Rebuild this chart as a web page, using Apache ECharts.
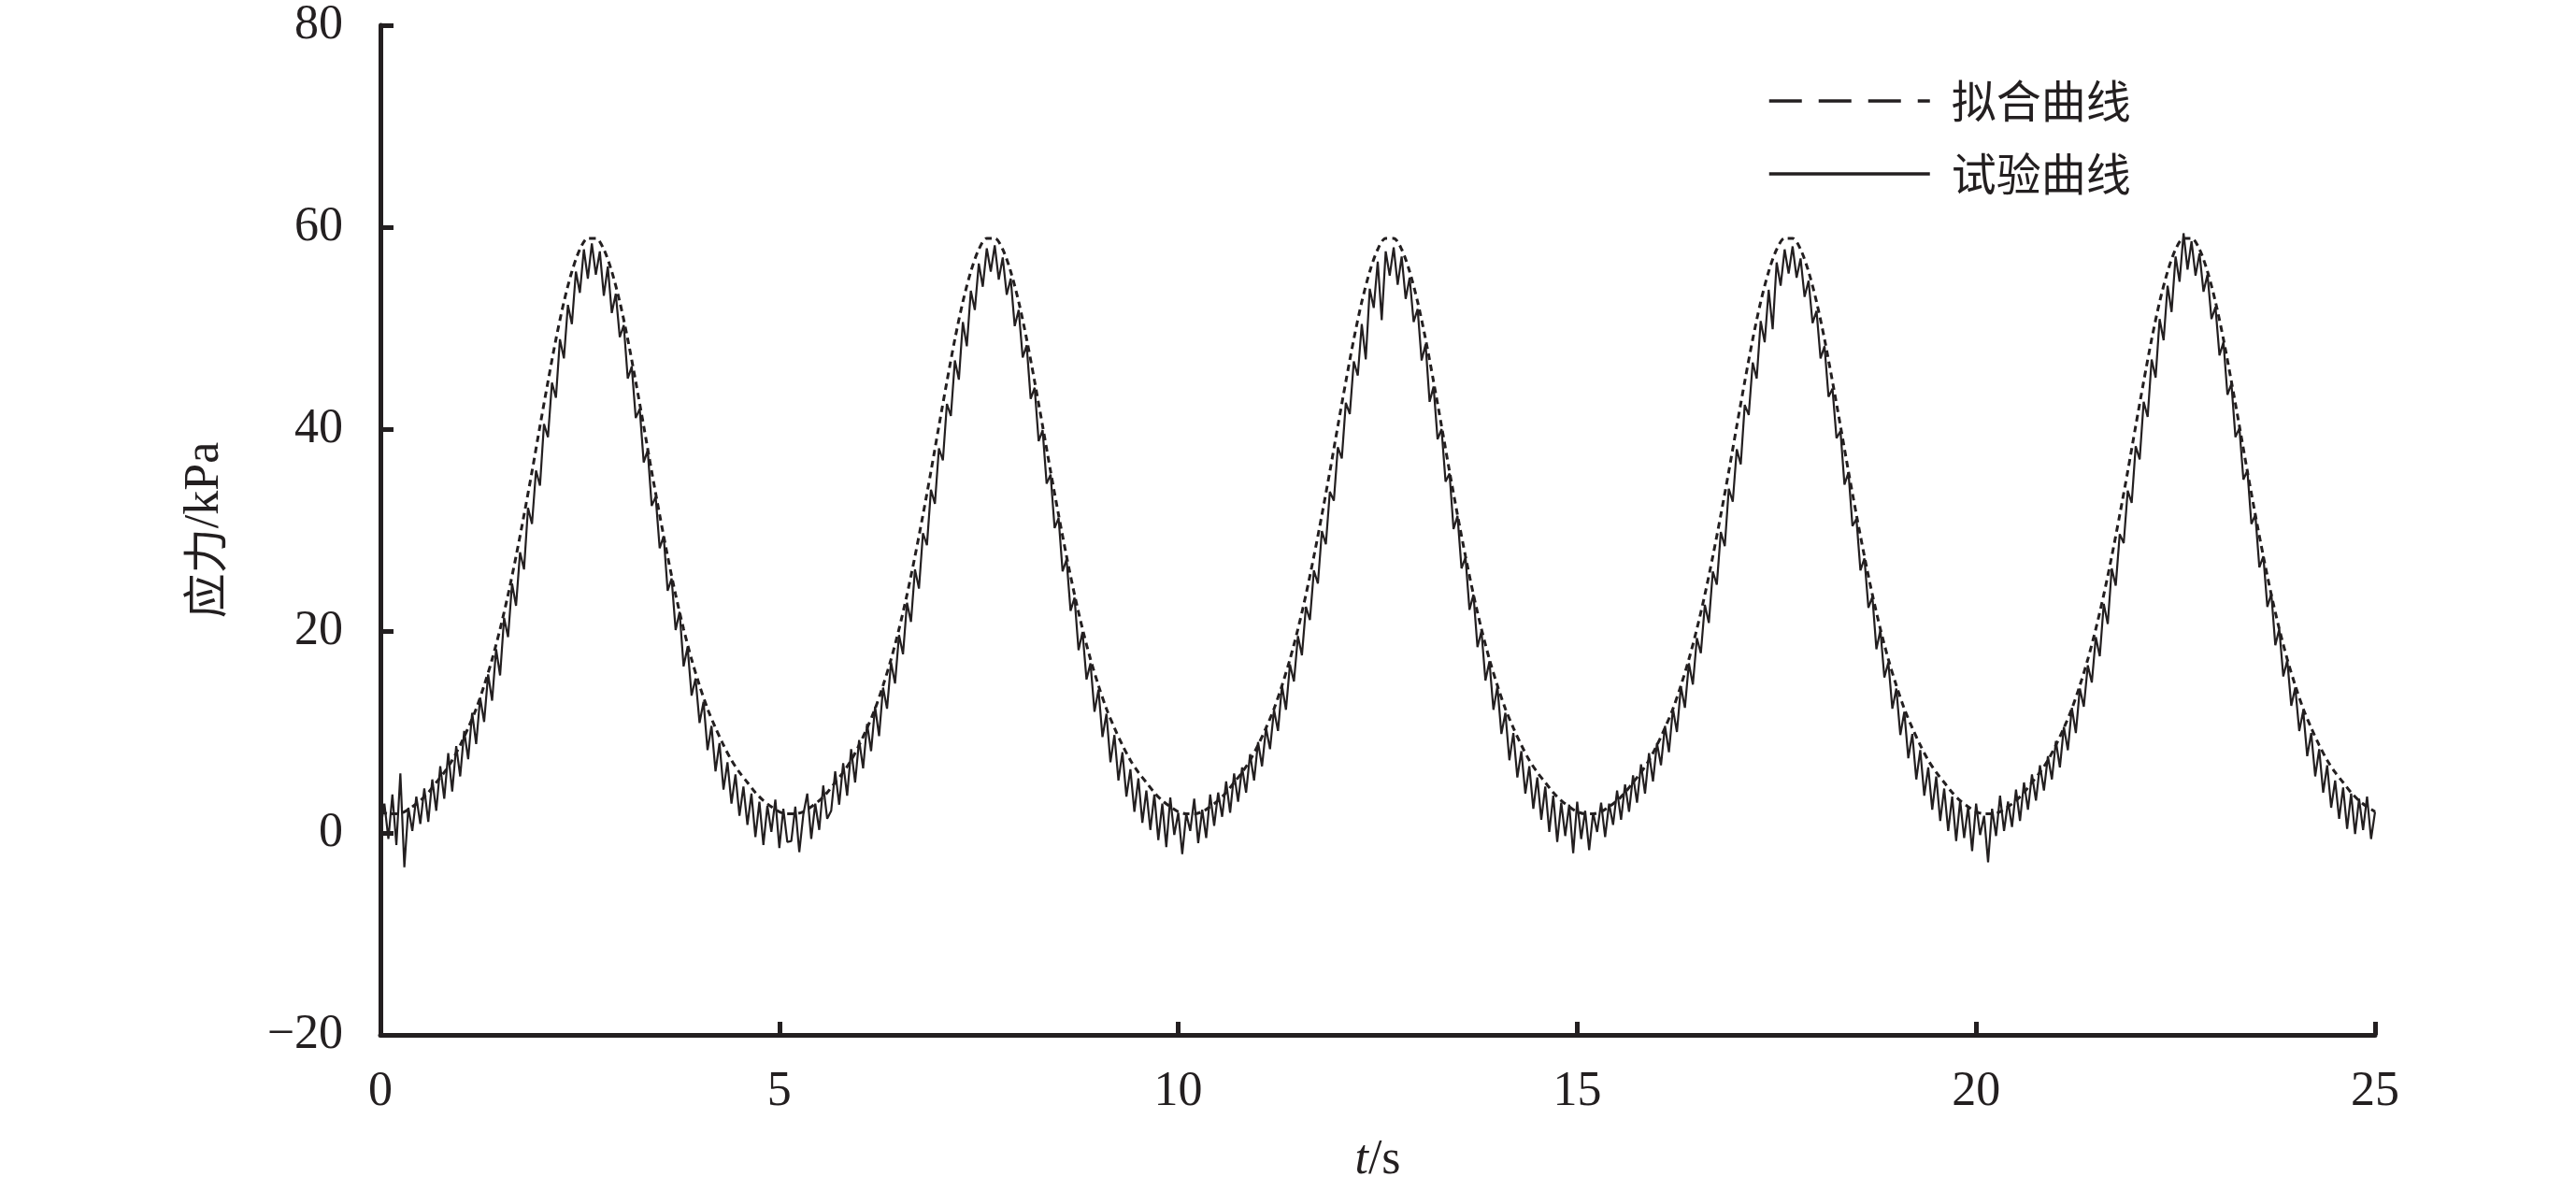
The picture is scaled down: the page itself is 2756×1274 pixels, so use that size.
<!DOCTYPE html>
<html>
<head>
<meta charset="utf-8">
<script src="https://cdn.jsdelivr.net/npm/echarts@6/dist/echarts.min.js"></script>
<style>
html,body{margin:0;padding:0;background:#fff;}
#chart{width:2756px;height:1274px;}
</style>
</head>
<body>
<div id="chart"></div>
<script>
// ---- data ----
const xTicks = [0, 5, 10, 15, 20, 25];
const yTicks = [-20, 0, 20, 40, 60, 80];
const seriesNames = ['拟合曲线', '试验曲线'];

// fitted curve, sampled every 0.1 s
const fitStep = 0.1;
const fitCycle1 = [2.1,1.9,1.9,2.1,2.6,3.2,4.0,5.0,6.0,7.2,8.7,10.4,12.3,14.6,17.2,20.2,23.6,27.4,31.5,35.8,40.3,44.7,48.9,52.6,55.6,57.8,58.9,58.9,57.8,55.6,52.6,48.9,44.7,40.3,35.8,31.5,27.4,23.6,20.2,17.2,14.6,12.3,10.4,8.7,7.2,6.0,5.0,4.0,3.2,2.6];
const fitCycle2 = [2.1,1.9,1.9,2.1,2.6,3.2,4.0,5.0,6.0,7.2,8.7,10.4,12.3,14.6,17.2,20.2,23.6,27.4,31.5,35.8,40.3,44.7,48.9,52.6,55.6,57.8,58.9,58.9,57.8,55.6,52.6,48.9,44.7,40.3,35.8,31.5,27.4,23.6,20.2,17.2,14.6,12.3,10.4,8.7,7.2,6.0,5.0,4.0,3.2,2.6];
const fitCycle3 = [2.1,1.9,1.9,2.1,2.6,3.2,4.0,5.0,6.0,7.2,8.7,10.4,12.3,14.6,17.2,20.2,23.6,27.4,31.5,35.8,40.3,44.7,48.9,52.6,55.6,57.8,58.9,58.9,57.8,55.6,52.6,48.9,44.7,40.3,35.8,31.5,27.4,23.6,20.2,17.2,14.6,12.3,10.4,8.7,7.2,6.0,5.0,4.0,3.2,2.6];
const fitCycle4 = [2.1,1.9,1.9,2.1,2.6,3.2,4.0,5.0,6.0,7.2,8.7,10.4,12.3,14.6,17.2,20.2,23.6,27.4,31.5,35.8,40.3,44.7,48.9,52.6,55.6,57.8,58.9,58.9,57.8,55.6,52.6,48.9,44.7,40.3,35.8,31.5,27.4,23.6,20.2,17.2,14.6,12.3,10.4,8.7,7.2,6.0,5.0,4.0,3.2,2.6];
const fitCycle5 = [2.1,1.9,1.9,2.1,2.6,3.2,4.0,5.0,6.0,7.2,8.7,10.4,12.3,14.6,17.2,20.2,23.6,27.4,31.5,35.8,40.3,44.7,48.9,52.6,55.6,57.8,58.9,58.9,57.8,55.6,52.6,48.9,44.7,40.3,35.8,31.5,27.4,23.6,20.2,17.2,14.6,12.3,10.4,8.7,7.2,6.0,5.0,4.0,3.2,2.6];
const fitEnd = [2.1];

// test curve, sampled every 0.05 s
const testStep = 0.05;
const testStart = [0.4,2.9,-0.6];
const testCycle1 = [3.8,-1.2,5.9,-3.4,2.5,0.2,3.6,0.9,4.4,1.1,
5.3,2.2,6.6,3.4,7.9,4.1,8.6,5.6,10.1,7.3,
11.9,8.8,13.4,11.0,15.7,13.1,18.2,15.6,21.3,19.4,
24.7,22.5,27.8,26.1,32.2,30.6,35.9,34.4,40.5,39.2,
44.6,43.1,48.9,47.0,52.3,50.4,55.6,53.5,57.8,54.9,
58.4,55.3,57.6,53.2,56.1,51.5,53.4,49.1,50.3,45.0,
46.2,41.1,42.0,36.7,37.9,32.4,33.3,28.2,29.4,24.0,
25.2,20.1,21.9,16.5,18.4,13.6,15.3,10.9,13.0,8.2,
10.6,6.1,8.9,4.3,7.0,2.9,5.8,1.7,4.6,0.8,
3.9,-0.4,3.1,-1.2,2.7,0.1,3.3,-1.5,2.4,-0.9];
const testCycle2 = [-0.8,2.6,-1.9,1.8,3.9,-0.6,2.9,0.3,4.7,1.4,
2.2,6.1,2.8,6.9,3.7,8.3,5.0,9.2,6.4,10.8,
8.1,12.5,9.6,14.4,12.3,16.9,14.8,19.6,17.7,22.8,
20.9,26.1,24.2,29.7,28.5,34.0,32.6,38.1,36.9,42.5,
41.3,46.8,44.9,50.6,48.2,53.7,51.8,56.4,54.1,57.9,
55.6,58.2,54.8,57.0,53.3,54.9,50.2,51.8,47.1,48.3,
43.0,44.1,38.8,39.9,34.6,35.5,30.2,31.2,25.9,27.1,
22.0,23.3,18.1,19.9,15.2,16.8,12.0,14.2,9.5,11.8,
7.0,9.7,5.2,8.0,3.6,6.3,2.1,5.4,1.0,4.2,
0.3,3.8,-0.7,2.9,-1.4,3.5,-0.2,2.0,-2.1,1.9];
const testCycle3 = [0.2,3.4,-1.0,2.3,-0.5,3.8,0.7,4.0,1.6,5.1,
2.0,5.9,3.1,6.5,4.0,7.8,5.2,9.0,6.6,10.4,
8.3,12.2,10.1,14.6,12.2,16.7,15.0,19.5,17.6,22.4,
21.1,26.0,24.7,29.9,28.6,33.8,32.9,38.2,37.1,42.6,
41.5,46.7,45.3,50.4,46.9,53.9,52.0,56.6,50.8,57.6,
55.2,58.0,54.3,57.1,52.9,55.0,50.6,51.9,46.8,48.4,
42.7,44.2,39.0,40.0,34.8,35.6,30.1,31.4,26.2,27.3,
22.1,23.6,18.4,20.0,15.1,17.0,12.2,14.5,9.8,11.9,
7.2,9.9,5.5,8.1,3.9,6.6,2.4,5.5,1.3,4.6,
0.1,3.7,-0.9,3.0,-0.3,2.8,-2.0,3.1,-0.6,2.2];
const testCycle4 = [-1.7,2.0,0.1,3.0,-0.4,2.9,0.8,4.2,1.3,4.8,
2.1,5.7,3.0,6.8,3.9,7.9,5.1,8.9,6.7,10.6,
8.0,12.3,10.0,14.5,12.4,16.8,14.7,19.3,17.8,22.6,
20.8,25.9,24.6,29.8,28.4,34.1,32.8,38.0,36.5,42.4,
41.4,46.6,45.0,50.7,48.6,53.8,49.9,56.5,54.2,57.8,
55.4,58.1,55.0,56.9,53.1,54.7,50.5,51.7,47.0,48.2,
43.2,44.0,39.1,39.8,34.5,35.7,30.4,31.1,26.0,27.2,
22.3,23.4,18.2,20.1,15.4,16.9,12.3,14.3,9.7,12.0,
7.4,9.8,5.3,8.2,3.7,6.5,2.3,5.6,1.2,4.4,
0.2,3.6,-0.8,3.2,-0.5,2.6,-1.8,2.9,-0.2,1.7];
const testCycle5 = [-2.9,2.4,-0.3,3.7,0.2,3.1,0.6,4.3,1.2,5.0,
2.3,5.8,3.2,6.7,4.2,7.6,5.3,9.1,6.5,10.5,
8.2,12.4,9.9,14.3,12.5,16.6,14.9,19.4,17.5,22.7,
20.7,26.2,24.5,29.6,28.7,33.9,32.7,38.3,37.0,42.7,
41.2,46.9,45.1,50.9,48.8,54.2,51.6,57.1,54.6,59.4,
55.8,58.6,55.2,57.4,53.6,55.3,50.9,52.1,47.3,48.6,
43.4,44.5,39.2,40.1,35.0,35.9,30.6,31.5,26.3,27.4,
22.4,23.7,18.6,20.2,15.5,17.1,12.6,14.4,10.1,12.1,
7.6,9.9,5.6,8.3,4.0,6.7,2.5,5.2,1.4,4.5,
0.4,3.9,-0.1,3.4,0.3,3.6,-0.6,2.1];

// ---- build ----
const fitValues = [].concat(fitCycle1, fitCycle2, fitCycle3, fitCycle4, fitCycle5, fitEnd);
const testValues = [].concat(testStart, testCycle1, testCycle2, testCycle3, testCycle4, testCycle5);
const fitData = fitValues.map((v, i) => [+(i * fitStep).toFixed(3), v]);
const testData = testValues.map((v, i) => [+(i * testStep).toFixed(3), v]);

const ink = '#231f20';
const serif = 'Liberation Serif';
const cjk = 'Noto Sans CJK SC';

const chart = echarts.init(document.getElementById('chart'), null, {renderer: 'canvas'});
chart.setOption({
  animation: false,
  backgroundColor: '#ffffff',
  color: [ink, ink],
  grid: {left: 407, right: 215, top: 27, bottom: 167, containLabel: false},
  legend: {
    orient: 'vertical',
    left: 1886,
    top: 75,
    itemWidth: 172,
    itemHeight: 14,
    itemGap: 22,
    itemStyle: {opacity: 0},
    textStyle: {fontFamily: cjk, fontSize: 48, color: ink, lineHeight: 56, padding: [0, 0, 0, 18]},
    data: [
      {name: seriesNames[0], itemStyle: {opacity: 0}, lineStyle: {type: [35, 18], width: 3.5, color: ink}},
      {name: seriesNames[1], itemStyle: {opacity: 0}, lineStyle: {type: 'solid', width: 3.5, color: ink}}
    ]
  },
  xAxis: {
    type: 'value',
    min: xTicks[0],
    max: xTicks[xTicks.length - 1],
    interval: 5,
    name: '{it|t}{n|/s}',
    nameLocation: 'middle',
    nameGap: 108,
    nameTextStyle: {
      rich: {
        it: {fontFamily: serif, fontStyle: 'italic', fontSize: 52, color: ink},
        n: {fontFamily: serif, fontSize: 52, color: ink}
      }
    },
    axisLine: {onZero: false, lineStyle: {color: ink, width: 5}},
    axisTick: {inside: true, length: 14, lineStyle: {color: ink, width: 5}},
    axisLabel: {fontFamily: serif, fontSize: 52, color: ink, margin: 35},
    splitLine: {show: false}
  },
  yAxis: {
    type: 'value',
    min: yTicks[0],
    max: yTicks[yTicks.length - 1],
    interval: 20,
    name: '{cn|应力}{en|/kPa}',
    nameLocation: 'middle',
    nameGap: 162,
    nameRotate: 90,
    nameTextStyle: {
      rich: {
        cn: {fontFamily: cjk, fontSize: 48, color: ink},
        en: {fontFamily: serif, fontSize: 52, color: ink}
      }
    },
    axisLine: {onZero: false, lineStyle: {color: ink, width: 5}},
    axisTick: {inside: true, length: 14, lineStyle: {color: ink, width: 5}},
    axisLabel: {
      fontFamily: serif, fontSize: 52, color: ink, margin: 40,
      formatter: v => (v < 0 ? '\u2212' + Math.abs(v) : String(v))
    },
    splitLine: {show: false}
  },
  series: [
    {
      name: seriesNames[0],
      type: 'line',
      data: fitData,
      symbol: 'none',
      smooth: 0.3,
      itemStyle: {color: ink},
      lineStyle: {color: ink, width: 3, type: [7, 5]},
      z: 3
    },
    {
      name: seriesNames[1],
      type: 'line',
      data: testData,
      symbol: 'none',
      itemStyle: {color: ink},
      lineStyle: {color: ink, width: 2.2},
      z: 2
    }
  ]
});
</script>
</body>
</html>
